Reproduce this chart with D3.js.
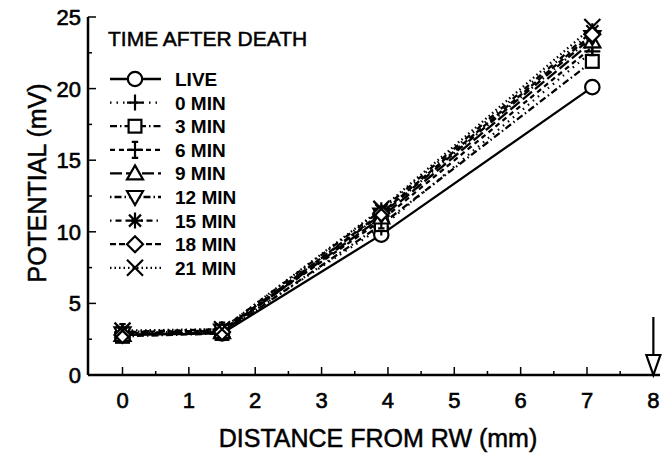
<!DOCTYPE html>
<html>
<head>
<meta charset="utf-8">
<script src="https://cdn.jsdelivr.net/npm/d3@7"></script>
<style>
  body { margin: 0; background: #fff; }
  text { fill: #000; }
</style>
</head>
<body>
<div id="chart"></div>
<script>
// distances along the cochlea (mm) where potentials were measured
const distances = [0, 1.5, 3.9, 7.08];

const seriesNames = ["LIVE", "0 MIN", "3 MIN", "6 MIN", "9 MIN", "12 MIN", "15 MIN", "18 MIN", "21 MIN"];

const liveVals = [2.8, 2.9, 9.8, 20.1];
const min0Vals = [2.9, 3.0, 10.3, 22.6];
const min3Vals = [2.7, 2.9, 10.5, 21.9];
const min6Vals = [3.0, 3.1, 10.8, 22.9];
const min9Vals = [2.8, 3.0, 11.0, 23.3];
const min12Vals = [2.9, 3.1, 11.2, 23.6];
const min15Vals = [3.0, 3.2, 11.5, 24.0];
const min18Vals = [2.8, 3.0, 11.3, 23.8];
const min21Vals = [3.1, 3.2, 11.6, 24.3];

const xTicks = [0, 1, 2, 3, 4, 5, 6, 7, 8];
const yTicks = [0, 5, 10, 15, 20, 25];
const arrowAt = 8;

const allVals = [liveVals, min0Vals, min3Vals, min6Vals, min9Vals, min12Vals, min15Vals, min18Vals, min21Vals];

const markers = ["circle", "plus", "square", "dplus", "triangle", "tridown", "star", "diamond", "cross"];
const dashes = ["none", "1.5,5", "7,3,1.5,3", "5,4", "12,4", "1.5,3,7,3", "1.5,4,6,4", "6,3", "1.5,3"];

let margin = { top: 17, right: 4, bottom: 79, left: 88 },
  width = 664 - margin.left - margin.right,
  height = 454 - margin.top - margin.bottom;

const fontMain = "Liberation Sans, Arial, sans-serif";
const fontNarrow = "Liberation Sans Narrow, Arial Narrow, sans-serif";

const x = d3.scaleLinear().domain([-0.52, 8.1]).range([0, width]);
const y = d3.scaleLinear().domain([0, 25]).range([height, 0]);

const svg = d3.select("#chart").append("svg")
  .attr("width", 664).attr("height", 454);

const g = svg.append("g")
  .attr("transform", "translate(" + margin.left + "," + margin.top + ")");

// draw a marker symbol at (0,0) with size s
function drawMarker(sel, type, s) {
  const r = s / 2;
  const st = { fill: "#fff", stroke: "#000", "stroke-width": 2.2 };
  function ap(el) { for (const k in st) el.attr(k, st[k]); return el; }
  if (type === "circle") ap(sel.append("circle").attr("r", r * 0.9));
  else if (type === "square") ap(sel.append("rect").attr("x", -r * 0.8).attr("y", -r * 0.8).attr("width", r * 1.6).attr("height", r * 1.6));
  else if (type === "triangle") ap(sel.append("path").attr("d", `M0,${-r}L${r},${r * 0.75}L${-r},${r * 0.75}Z`));
  else if (type === "tridown") ap(sel.append("path").attr("d", `M0,${r}L${r},${-r * 0.75}L${-r},${-r * 0.75}Z`));
  else if (type === "diamond") ap(sel.append("path").attr("d", `M0,${-r}L${r},0L0,${r}L${-r},0Z`));
  else if (type === "plus") ap(sel.append("path").attr("d", `M${-r},0H${r}M0,${-r}V${r}`));
  else if (type === "dplus") ap(sel.append("path").attr("d", `M${-r},0H${r}M0,${-r}V${r}M${-r * 0.4},${-r}H${r * 0.4}M${-r * 0.4},${r}H${r * 0.4}`));
  else if (type === "cross") ap(sel.append("path").attr("d", `M${-r},${-r}L${r},${r}M${r},${-r}L${-r},${r}`));
  else if (type === "star") ap(sel.append("path").attr("d", `M${-r},0H${r}M0,${-r}V${r}M${-r * 0.75},${-r * 0.75}L${r * 0.75},${r * 0.75}M${r * 0.75},${-r * 0.75}L${-r * 0.75},${r * 0.75}`));
}

// Axes
const xAxis = g.append("g")
  .attr("transform", "translate(0," + height + ")");
xAxis.append("line").attr("x1", 0).attr("x2", width)
  .attr("stroke", "#000").attr("stroke-width", 2.5);
xAxis.selectAll(".minor").data(d3.range(0.5, 8, 1)).join("line")
  .attr("x1", (d) => x(d)).attr("x2", (d) => x(d))
  .attr("y1", 0).attr("y2", -4).attr("stroke", "#000").attr("stroke-width", 1.5);
xAxis.selectAll(".major").data(xTicks).join("line")
  .attr("x1", (d) => x(d)).attr("x2", (d) => x(d))
  .attr("y1", 0).attr("y2", -8).attr("stroke", "#000").attr("stroke-width", 1.5);
xAxis.selectAll(".lbl").data(xTicks).join("text")
  .attr("x", (d) => x(d)).attr("y", 33)
  .attr("text-anchor", "middle")
  .style("font-family", fontMain)
  .style("font-size", "22px")
  .style("stroke", "#000").style("stroke-width", 0.6)
  .text((d) => d);

const yAxis = g.append("g");
yAxis.append("line").attr("y1", 0).attr("y2", height)
  .attr("stroke", "#000").attr("stroke-width", 2.5);
yAxis.selectAll(".minor").data(d3.range(2.5, 25, 5)).join("line")
  .attr("y1", (d) => y(d)).attr("y2", (d) => y(d))
  .attr("x1", 0).attr("x2", 4).attr("stroke", "#000").attr("stroke-width", 1.5);
yAxis.selectAll(".major").data(yTicks).join("line")
  .attr("y1", (d) => y(d)).attr("y2", (d) => y(d))
  .attr("x1", 0).attr("x2", 8).attr("stroke", "#000").attr("stroke-width", 1.5);
yAxis.selectAll(".lbl").data(yTicks).join("text")
  .attr("x", -7).attr("y", (d) => y(d) + 8)
  .attr("text-anchor", "end")
  .style("font-family", fontMain)
  .style("font-size", "22px")
  .style("stroke", "#000").style("stroke-width", 0.6)
  .text((d) => d);

// axis titles
svg.append("text")
  .attr("x", 378).attr("y", 447)
  .attr("text-anchor", "middle")
  .style("font-family", fontMain)
  .style("font-size", "25px")
  .style("stroke", "#000").style("stroke-width", 0.5)
  .text("DISTANCE FROM RW (mm)");
svg.append("text")
  .attr("transform", "translate(46,183) rotate(-90)")
  .attr("text-anchor", "middle")
  .style("font-family", fontMain)
  .style("font-size", "25px")
  .style("stroke", "#000").style("stroke-width", 0.5)
  .text("POTENTIAL (mV)");

// lines and markers
const line = d3.line().x((d, i) => x(distances[i])).y((d) => y(d));
allVals.forEach((vals, k) => {
  g.append("path").datum(vals)
    .attr("d", line)
    .attr("fill", "none").attr("stroke", "#000").attr("stroke-width", 2.3)
    .attr("stroke-dasharray", dashes[k]);
});
allVals.forEach((vals, k) => {
  vals.forEach((v, i) => {
    const m = g.append("g").attr("transform", `translate(${x(distances[i])},${y(v)})`);
    drawMarker(m, markers[k], 16);
  });
});

// arrow at 8 mm
const ax = x(arrowAt);
g.append("line").attr("x1", ax).attr("x2", ax)
  .attr("y1", height - 58).attr("y2", height - 20)
  .attr("stroke", "#000").attr("stroke-width", 2.2);
g.append("path")
  .attr("d", `M${ax - 7},${height - 20}L${ax + 7},${height - 20}L${ax},${height}Z`)
  .attr("fill", "#fff").attr("stroke", "#000").attr("stroke-width", 2.2);

// legend
const leg = svg.append("g").attr("transform", "translate(108,0)");
leg.append("text").attr("x", 0).attr("y", 46)
  .style("font-family", fontNarrow)
  .style("font-size", "21px")
  .style("stroke", "#000").style("stroke-width", 0.5)
  .text("TIME AFTER DEATH");
seriesNames.forEach((name, k) => {
  const yy = 79 + k * 23.6;
  const row = leg.append("g").attr("transform", `translate(0,${yy})`);
  row.append("line").attr("x1", 2).attr("x2", 53)
    .attr("stroke", "#000").attr("stroke-width", 2.3)
    .attr("stroke-dasharray", dashes[k]);
  const m = row.append("g").attr("transform", "translate(27,0)");
  drawMarker(m, markers[k], 16);
  row.append("text").attr("x", 67).attr("y", 7)
    .style("font-family", fontNarrow)
    .style("font-size", "19px").style("font-weight", "bold")
    .text(name);
});
</script>
</body>
</html>
